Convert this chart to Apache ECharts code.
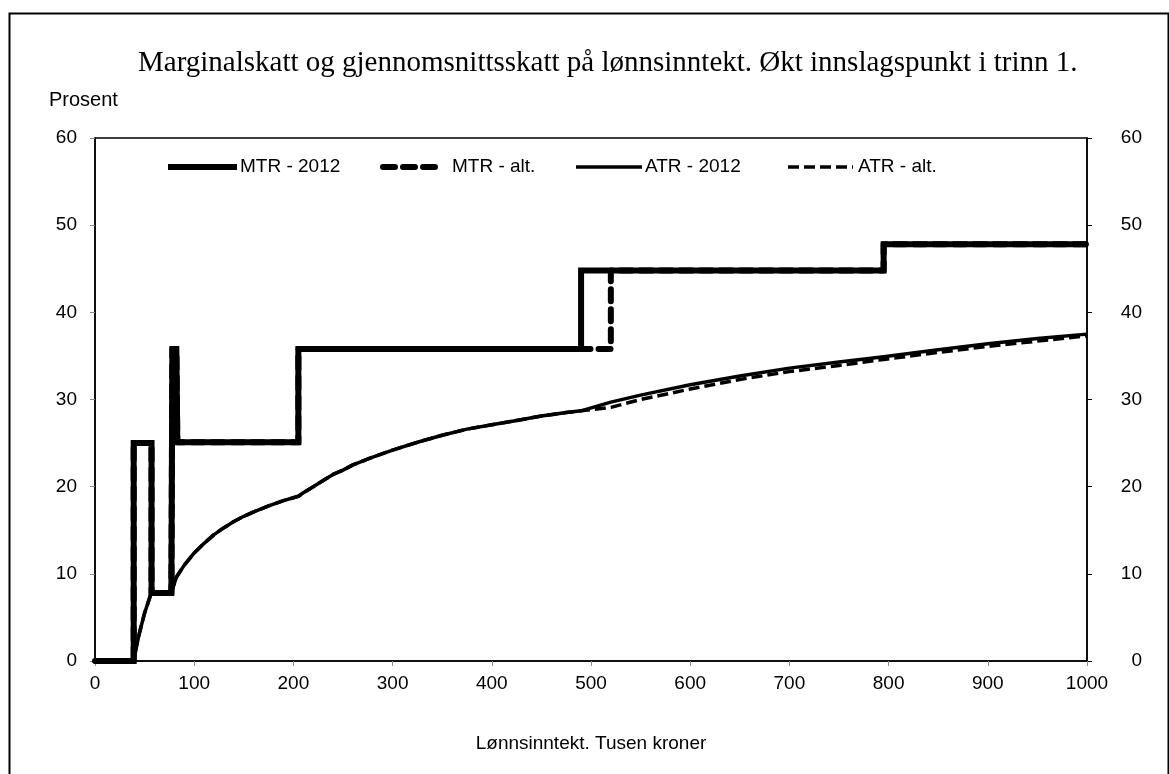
<!DOCTYPE html>
<html>
<head>
<meta charset="utf-8">
<script src="https://cdn.jsdelivr.net/npm/echarts@6/dist/echarts.min.js"></script>
<style>html,body{margin:0;padding:0;background:#fff}#c{width:1169px;height:774px}</style>
</head>
<body>
<div id="c"></div>
<script>
// Tick labels
var xTicks = [0, 100, 200, 300, 400, 500, 600, 700, 800, 900, 1000];
var yTicks = [0, 10, 20, 30, 40, 50, 60];
var seriesNames = ['MTR - 2012', 'MTR - alt.', 'ATR - 2012', 'ATR - alt.'];

// Marginal tax rate, 2012 [income, percent]
var mtr2012 = [[0,0],[39,0],[39,25],[57,25],[57,7.8],[77,7.8],[78,35.8],[82,35.8],[83,25.1],[205,25.1],[205,35.8],[490,35.8],[490,44.8],[795,44.8],[795,47.8],[1000,47.8]];
// Marginal tax rate, alternative
var mtrAlt = [[0,0],[39,0],[39,25],[57,25],[57,7.8],[77,7.8],[78,35.8],[82,35.8],[83,25.1],[205,25.1],[205,35.8],[520,35.8],[520,44.8],[795,44.8],[795,47.8],[1000,47.8]];
// Average tax rate, 2012
var atr2012 = [[0,0],[39,0],[42,1.8],[45,3.3],[50,5.5],[57,7.9],[65,7.9],[77,7.9],[82,9.6],[90,11.0],[100,12.4],[110,13.5],[120,14.5],[130,15.3],[140,16.0],[150,16.6],[160,17.1],[175,17.8],[190,18.4],[205,18.9],[210,19.3],[220,20.0],[230,20.7],[240,21.4],[250,21.9],[260,22.5],[280,23.4],[300,24.2],[325,25.1],[350,25.9],[375,26.6],[400,27.1],[425,27.6],[450,28.1],[475,28.5],[490,28.7],[520,29.7],[550,30.5],[600,31.7],[650,32.7],[700,33.6],[750,34.3],[795,34.9],[850,35.7],[900,36.4],[950,37.0],[1000,37.5]];
// Average tax rate, alternative
var atrAlt = [[0,0],[39,0],[42,1.8],[45,3.3],[50,5.5],[57,7.9],[65,7.9],[77,7.9],[82,9.6],[90,11.0],[100,12.4],[110,13.5],[120,14.5],[130,15.3],[140,16.0],[150,16.6],[160,17.1],[175,17.8],[190,18.4],[205,18.9],[210,19.3],[220,20.0],[230,20.7],[240,21.4],[250,21.9],[260,22.5],[280,23.4],[300,24.2],[325,25.1],[350,25.9],[375,26.6],[400,27.1],[425,27.6],[450,28.1],[475,28.5],[490,28.7],[520,29.1],[550,30.0],[600,31.2],[650,32.3],[700,33.2],[750,33.9],[795,34.6],[850,35.4],[900,36.1],[950,36.7],[1000,37.3]];

var chart = echarts.init(document.getElementById('c'), null, {renderer: 'canvas'});
var font = 'Liberation Sans, Arial, sans-serif';

var seriesStyles = [
  {color: '#000', width: 6, type: 'solid', cap: 'butt', join: 'miter'},
  {color: '#000', width: 6, type: [12, 8], cap: 'round', join: 'round'},
  {color: '#000', width: 3.5, type: 'solid', cap: 'butt', join: 'round'},
  {color: '#000', width: 3.5, type: [11, 5], cap: 'butt', join: 'round'}
];

// Legend drawn as graphic items: [lineStart, lineEnd, textLeft]
var legendPos = [[168, 237, 240], [383, 435, 452], [576, 642, 645], [788, 853, 858]];
var legendY = 167;
var legendGraphics = [];
seriesNames.forEach(function (n, i) {
  var p = legendPos[i], s = seriesStyles[i];
  legendGraphics.push({type: 'line', silent: true, shape: {x1: p[0], y1: legendY, x2: p[1], y2: legendY},
    style: {stroke: s.color, lineWidth: s.width, lineDash: s.type === 'solid' ? null : s.type, lineCap: s.cap}});
  legendGraphics.push({type: 'text', silent: true, x: p[2], y: legendY,
    style: {text: n, font: '19px Liberation Sans, Arial, sans-serif', fill: '#000', verticalAlign: 'middle', align: 'left'}});
});

var fmt = function (v) { return String(v); };

var option = {
  animation: false,
  backgroundColor: '#fff',
  title: {
    text: 'Marginalskatt og gjennomsnittsskatt på lønnsinntekt. Økt innslagspunkt i trinn 1.',
    left: 133, top: 44,
    textStyle: {fontFamily: 'Liberation Serif, Times New Roman, serif', fontSize: 29, fontWeight: 'normal', color: '#000'}
  },
  grid: {left: 95, right: 82, top: 138, bottom: 113, show: true, borderColor: '#000', borderWidth: 1.5, containLabel: false},
  xAxis: {
    type: 'value', min: xTicks[0], max: xTicks[xTicks.length-1], interval: 100,
    name: 'Lønnsinntekt. Tusen kroner', nameLocation: 'middle', nameGap: 73,
    nameTextStyle: {fontFamily: font, fontSize: 19, color: '#000'},
    axisLine: {show: true, onZero: false, lineStyle: {color: '#000', width: 1.5}},
    axisTick: {show: true, length: 5, lineStyle: {color: '#888'}},
    axisLabel: {fontFamily: font, fontSize: 19, color: '#000', margin: 13, formatter: fmt},
    splitLine: {show: false}
  },
  yAxis: [{
    type: 'value', min: yTicks[0], max: yTicks[yTicks.length-1], interval: 10, position: 'left',
    axisLine: {show: true, onZero: false, lineStyle: {color: '#000', width: 1.5}},
    axisTick: {show: true, length: 5, lineStyle: {color: '#888'}},
    axisLabel: {fontFamily: font, fontSize: 19, color: '#000', margin: 18, formatter: fmt},
    splitLine: {show: false}
  }, {
    type: 'value', min: yTicks[0], max: yTicks[yTicks.length-1], interval: 10, position: 'right',
    axisLine: {show: true, onZero: false, lineStyle: {color: '#000', width: 1.5}},
    axisTick: {show: true, length: 5, lineStyle: {color: '#000'}},
    axisLabel: {fontFamily: font, fontSize: 19, color: '#000', margin: 55, align: 'right', formatter: fmt},
    splitLine: {show: false}
  }],
  graphic: [
    {type: 'rect', left: 7, top: 11, silent: true, shape: {width: 1159, height: 800}, style: {fill: 'none', stroke: '#000', lineWidth: 2}},
    {type: 'text', left: 49, top: 90, style: {text: 'Prosent', font: '20px Liberation Sans, Arial, sans-serif', fill: '#000'}}
  ].concat(legendGraphics),
  series: seriesNames.map(function (n, i) {
    var s = seriesStyles[i];
    return {name: n, type: 'line', data: [mtr2012, mtrAlt, atr2012, atrAlt][i], symbol: 'none', z: 2 + i,
      lineStyle: {color: s.color, width: s.width, type: s.type, cap: s.cap, join: s.join}, itemStyle: {color: '#000'}};
  })
};
chart.setOption(option);
</script>
</body>
</html>
